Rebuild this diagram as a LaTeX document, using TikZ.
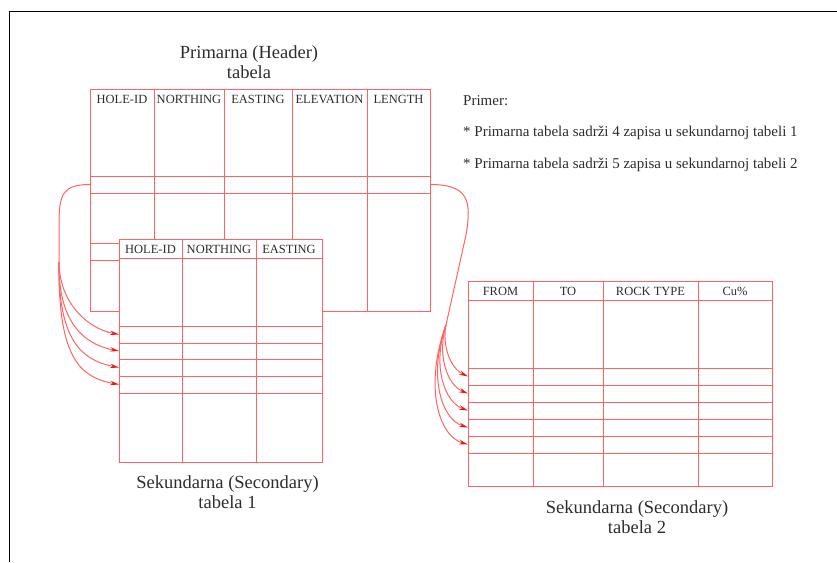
\documentclass[tikz,border=0pt]{standalone}
\usepackage{fontspec}
\setmainfont{Liberation Serif}
\usetikzlibrary{arrows.meta}
\definecolor{tline}{RGB}{255,100,100}
\definecolor{tarrow}{RGB}{240,20,20}
\definecolor{ttext}{RGB}{45,45,45}
\begin{document}
\begin{tikzpicture}[x=1pt,y=1pt,
  grid/.style={draw=tline, line width=1pt},
  hdr/.style={text=ttext, font=\fontsize{12.5}{14}\selectfont, inner sep=0pt},
  titletext/.style={text=ttext, font=\fontsize{18.5}{20}\selectfont, align=center, inner sep=0pt},
  note/.style={text=ttext, font=\fontsize{15}{17}\selectfont, anchor=west, inner sep=0pt},
  link/.style={draw=tline, line width=1pt, -{Stealth[length=9pt,width=4.5pt,tarrow]}},
  trunk/.style={draw=tline, line width=1pt}]
\useasboundingbox (0,0) rectangle (837,-562);
\draw[black, line width=0.9pt] (9.5,-562) -- (9.5,-11.5) -- (837,-11.5);

% ---------- primary table ----------
\node[titletext] (ptitle) at (249,-62) {Primarna (Header)\\tabela};
\draw[grid] (90,-89) rectangle (430,-311);
\foreach \x in {154,224,292,367} \draw[grid] (\x,-89) -- (\x,-311);
\foreach \y in {176,193} \draw[grid] (90,-\y) -- (430,-\y);
\draw[grid] (90,-243) -- (119,-243);
\draw[grid] (90,-260) -- (119,-260);
\node[hdr] (ph1) at (122,-99) {HOLE-ID};
\node[hdr] (ph2) at (189,-99) {NORTHING};
\node[hdr] (ph3) at (258,-99) {EASTING};
\node[hdr] (ph4) at (329.5,-99) {ELEVATION};
\node[hdr] (ph5) at (398.5,-99) {LENGTH};
\coordinate (srcA) at (90,-184.5);
\coordinate (srcB) at (430,-184.5);

% ---------- secondary table 1 ----------
\fill[white] (119,-239) rectangle (322,-462);
\draw[grid] (119,-239) rectangle (322,-462);
\draw[grid] (119,-258) -- (322,-258);
\foreach \x in {182,256} \draw[grid] (\x,-239) -- (\x,-462);
\foreach \y in {326,343,359,376,393} \draw[grid] (119,-\y) -- (322,-\y);
\node[hdr] (ah1) at (150.5,-249) {HOLE-ID};
\node[hdr] (ah2) at (219,-249) {NORTHING};
\node[hdr] (ah3) at (289,-249) {EASTING};
\node[titletext] (atitle) at (227.5,-492.5) {Sekundarna (Secondary)\\tabela 1};
\coordinate (a1) at (119,-334.5);
\coordinate (a2) at (119,-351);
\coordinate (a3) at (119,-367.5);
\coordinate (a4) at (119,-384.5);

% ---------- secondary table 2 ----------
\draw[grid] (468,-281) rectangle (772,-486);
\draw[grid] (468,-300) -- (772,-300);
\foreach \x in {533,603,698} \draw[grid] (\x,-281) -- (\x,-486);
\foreach \y in {368,385,402,419,436,453} \draw[grid] (468,-\y) -- (772,-\y);
\node[hdr] (bh1) at (500.5,-291.5) {FROM};
\node[hdr] (bh2) at (568,-291.5) {TO};
\node[hdr] (bh3) at (650.5,-291.5) {ROCK TYPE};
\node[hdr] (bh4) at (735,-291.5) {Cu\%};
\node[titletext] (btitle) at (637,-517.5) {Sekundarna (Secondary)\\tabela 2};
\coordinate (b1) at (468,-376.5);
\coordinate (b2) at (468,-393.5);
\coordinate (b3) at (468,-410.5);
\coordinate (b4) at (468,-427.5);
\coordinate (b5) at (468,-444.5);

% ---------- notes ----------
\node[note] (n0) at (463,-101) {Primer:};
\node[note] (n1) at (463,-132.5) {* Primarna tabela sadrži 4 zapisa u sekundarnoj tabeli 1};
\node[note] (n2) at (463,-165) {* Primarna tabela sadrži 5 zapisa u sekundarnoj tabeli 2};

% ---------- connectors to table 1 ----------
\coordinate (ja) at (59,-262);
\draw[trunk] (srcA) .. controls (62,-184.5) and (59,-195) .. (59,-225) -- (ja);
\draw[link] (ja) .. controls (59,-300) and (85,-328) .. (a1);
\draw[link] (ja) .. controls (58,-320) and (82,-344) .. (a2);
\draw[link] (ja) .. controls (58,-338) and (80,-360) .. (a3);
\draw[link] (ja) .. controls (58,-355) and (78,-377) .. (a4);

% ---------- connectors to table 2 ----------
\coordinate (jb) at (446,-325);
\draw[trunk] (srcB) .. controls (468,-184.5) and (472,-200) .. (466,-235) -- (jb);
\draw[link] (jb) .. controls (442,-345) and (450,-368) .. (b1);
\draw[link] (jb) .. controls (437,-355) and (447,-385) .. (b2);
\draw[link] (jb) .. controls (432,-365) and (444,-402) .. (b3);
\draw[link] (jb) .. controls (428,-375) and (441,-419) .. (b4);
\draw[link] (jb) .. controls (424,-385) and (438,-436) .. (b5);
\end{tikzpicture}
\end{document}
